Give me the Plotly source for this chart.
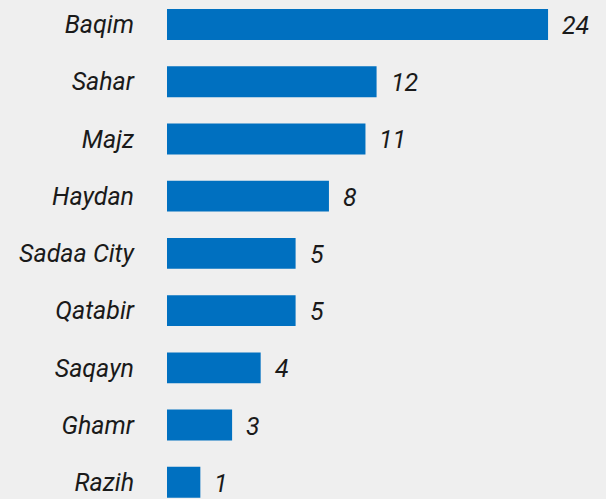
import plotly.graph_objects as go

districts = ["Baqim", "Sahar", "Majz", "Haydan", "Sadaa City", "Qatabir", "Saqayn", "Ghamr", "Razih"]
bar_values = [24, 13.2, 12.5, 10.2, 8.1, 8.1, 5.9, 4.1, 2.1]
value_labels = ["24", "12", "11", "8", "5", "5", "4", "3", "1"]

BG = "#efefef"
BLUE = "#0070c0"
FONT = dict(family="Roboto", size=25, color="#1a1a1a", style="italic")

fig = go.Figure(go.Bar(
    x=bar_values, y=districts, orientation="h",
    marker=dict(color=BLUE, line=dict(width=0)),
    width=0.54,
    hoverinfo="skip",
))

for v, name, lab in zip(bar_values, districts, value_labels):
    fig.add_annotation(x=v, y=name, text=lab, showarrow=False,
                       xanchor="left", yanchor="middle", xshift=12, yshift=-1,
                       font=FONT)

fig.update_layout(
    width=606, height=499,
    margin=dict(l=167, r=0, t=0, b=0),
    paper_bgcolor=BG, plot_bgcolor=BG,
    showlegend=False,
    font=FONT,
)
fig.update_xaxes(range=[0, 27.65], visible=False, showgrid=False, zeroline=False)
fig.update_yaxes(range=[8.292, -0.428], showgrid=False, zeroline=False, showline=False,
                 ticks="", ticklabelstandoff=32, tickfont=FONT)

fig.write_html(
    "out.html",
    config={"displayModeBar": False},
    post_script="document.body.style.margin='0';document.body.style.padding='0';"
                "document.body.style.background='#efefef';document.body.style.overflow='hidden';",
)
